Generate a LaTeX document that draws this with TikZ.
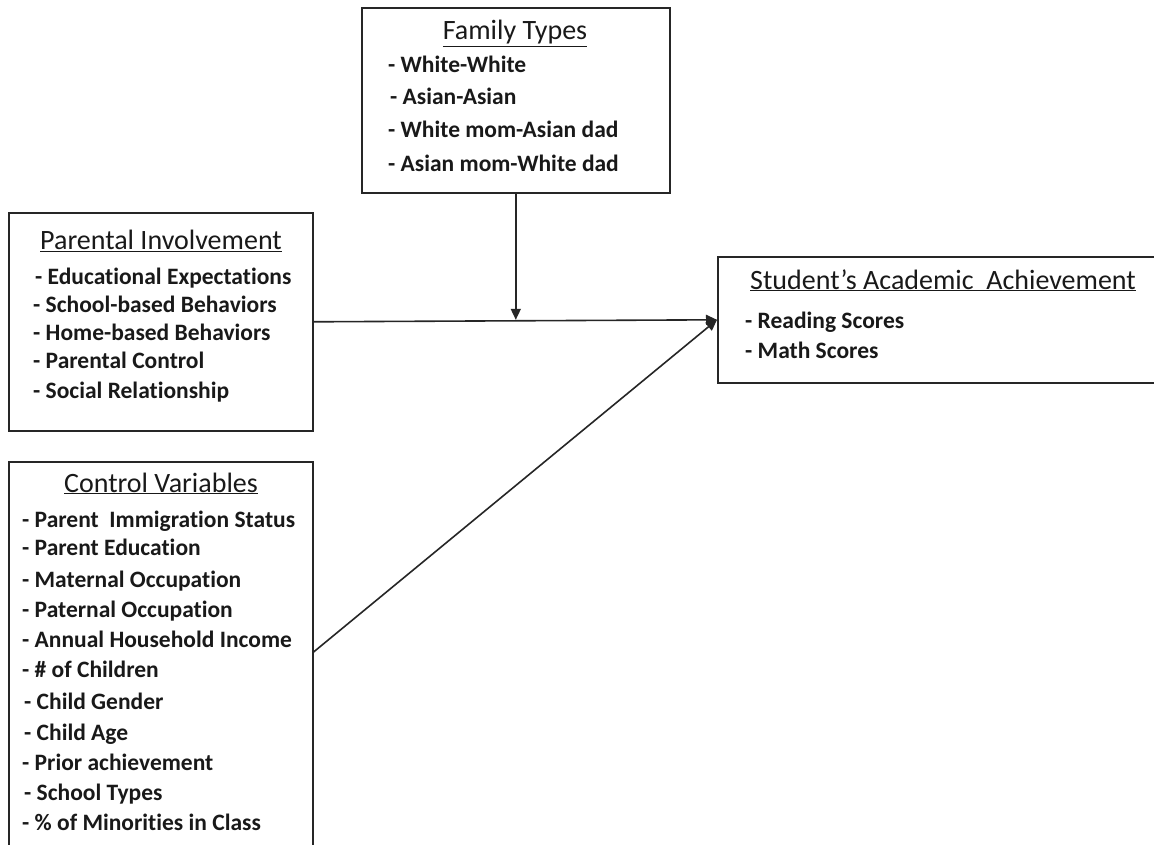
\documentclass[tikz,border=0pt]{standalone}
\usepackage{fontspec}
\setmainfont{Carlito}[Ligatures=NoCommon]
\usetikzlibrary{arrows.meta}
\begin{document}
\begin{tikzpicture}[x=1pt,y=-1pt,
  box/.style={draw=black!85, line width=1.6pt, inner sep=0pt, anchor=north west},
  ttl/.style={anchor=base, inner sep=0pt, text=black!90, font=\fontsize{28}{32}\selectfont},
  itm/.style={anchor=base west, inner sep=0pt, text=black!90, font=\bfseries\fontsize{23.5}{27}\selectfont},
  conn/.style={draw=black!85, line width=1.6pt, -{Triangle[length=11pt,width=10pt]}}]
\useasboundingbox (0,0) rectangle (1154,845);
\clip (0,0) rectangle (1154,845);
\fill[white] (0,0) rectangle (1154,845);

% boxes
\node[box, minimum width=308pt, minimum height=185pt] (ft) at (361,7) {};
\node[box, minimum width=304pt, minimum height=218pt] (pi) at (8,212) {};
\node[box, minimum width=304pt, minimum height=400pt] (cv) at (8,461) {};
\node[box, minimum width=450pt, minimum height=126pt] (sa) at (717,256) {};

% Family Types
\node[ttl] (ftt) at (515,40) {\underline{Family Types}};
\node[itm] (ft1) at (388,73) {- White-White};
\node[itm] (ft2) at (390,105) {- Asian-Asian};
\node[itm] (ft3) at (388,138) {- White mom-Asian dad};
\node[itm] (ft4) at (388,172) {- Asian mom-White dad};

% Parental Involvement
\node[ttl] (pit) at (161,250) {\underline{Parental Involvement}};
\node[itm] (pi1) at (35,284) {- Educational Expectations};
\node[itm] (pi2) at (33,312) {- School-based Behaviors};
\node[itm] (pi3) at (33,340) {- Home-based Behaviors};
\node[itm] (pi4) at (33,368) {- Parental Control};
\node[itm] (pi5) at (33,398) {- Social Relationship};

% Control Variables
\node[ttl] (cvt) at (161,492) {\underline{Control Variables}};
\node[itm] (cv1) at (22,527) {- Parent~ Immigration Status};
\node[itm] (cv2) at (22,555) {- Parent Education};
\node[itm] (cv3) at (22,587) {- Maternal Occupation};
\node[itm] (cv4) at (22,617) {- Paternal Occupation};
\node[itm] (cv5) at (22,647) {- Annual Household Income};
\node[itm] (cv6) at (22,677) {- \# of Children};
\node[itm] (cv7) at (24,709) {- Child Gender};
\node[itm] (cv8) at (24,740) {- Child Age};
\node[itm] (cv9) at (22,770) {- Prior achievement};
\node[itm] (cv10) at (24,800) {- School Types};
\node[itm] (cv11) at (22,830) {- \% of Minorities in Class};

% Student's Academic Achievement
\node[ttl] (sat) at (943,289) {\underline{Student’s Academic~ Achievement}};
\node[itm] (sa1) at (745,328) {- Reading Scores};
\node[itm] (sa2) at (745,358) {- Math Scores};

% connectors
\path (cv.north east) ++(0,191) coordinate (cvout);
\coordinate (mid) at (ft.south |- sa.west);
\draw[conn] (pi.east) -- (sa.west);
\draw[conn] (ft.south) -- (mid);
\draw[conn] (cvout) -- (sa.west);
\end{tikzpicture}
\end{document}
